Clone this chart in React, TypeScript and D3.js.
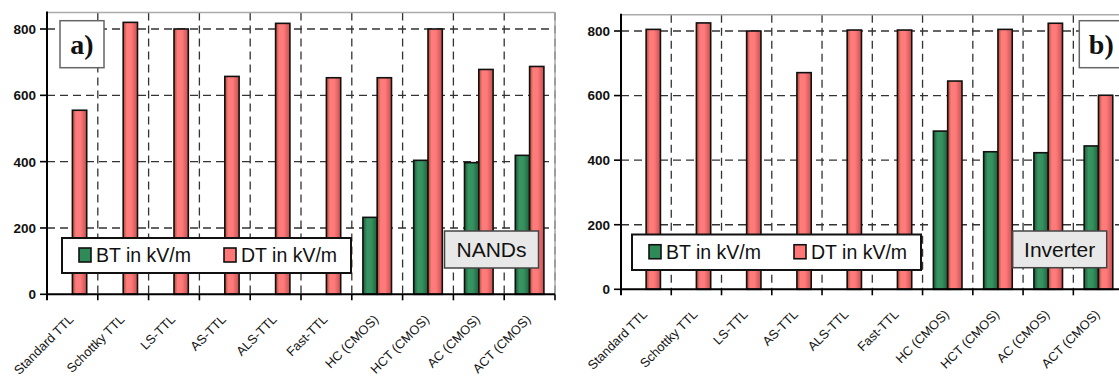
import React from "react";
import * as d3 from "d3";

const categories = [
  "Standard TTL",
  "Schottky TTL",
  "LS-TTL",
  "AS-TTL",
  "ALS-TTL",
  "Fast-TTL",
  "HC (CMOS)",
  "HCT (CMOS)",
  "AC (CMOS)",
  "ACT (CMOS)",
];
const nandBT: (number | null)[] = [null, null, null, null, null, null, 232, 404, 397, 419];
const nandDT = [555, 820, 800, 657, 817, 653, 653, 800, 678, 687];
const invBT: (number | null)[] = [null, null, null, null, null, null, 490, 426, 423, 444];
const invDT = [805, 825, 800, 671, 803, 803, 645, 805, 824, 601];
const yTicks = [0, 200, 400, 600, 800];
const seriesNames = ["BT in kV/m", "DT in kV/m"];
const panelTags = ["a)", "b)"];
const panelNames = ["NANDs", "Inverter"];

const FONT = "Arial, 'Liberation Sans', sans-serif";

type PanelGeom = {
  x0: number; x1: number; yZero: number; y800: number;
  legend: { x: number; y: number; w: number; h: number };
  nameBox: { x: number; y: number; w: number; h: number };
  tagBox: { x: number; y: number; w: number; h: number };
};

const geoms: PanelGeom[] = [
  {
    x0: 47, x1: 555, yZero: 294.3, y800: 29,
    legend: { x: 62, y: 238, w: 289, h: 35 },
    nameBox: { x: 444.5, y: 231, w: 94, h: 37 },
    tagBox: { x: 60, y: 20.7, w: 44, h: 47 },
  },
  {
    x0: 621, x1: 1123.6, yZero: 289.3, y800: 31,
    legend: { x: 632, y: 234.5, w: 289, h: 35.5 },
    nameBox: { x: 1012.7, y: 231, w: 94, h: 36.7 },
    tagBox: { x: 1079.3, y: 20.7, w: 44, h: 47 },
  },
];

function Panel({ g, bt, dt, idx }: { g: PanelGeom; bt: (number | null)[]; dt: number[]; idx: number }) {
  const unit = (g.yZero - g.y800) / 800;
  const yTopPx = g.yZero - 850 * unit;
  const y = d3.scaleLinear().domain([0, 850]).range([g.yZero, yTopPx]);
  const x = d3.scaleBand<string>().domain(categories).range([g.x0, g.x1]).paddingInner(0).paddingOuter(0);
  const bw = 14.3;
  const bounds = categories.map((c) => x(c)!).concat([g.x1]);
  const gridY = yTicks.filter((t) => t > 0);
  return (
    <g>
      {gridY.map((t) => (
        <line key={"gy" + t} x1={g.x0} x2={g.x1} y1={y(t)} y2={y(t)} stroke="#333" strokeWidth={1.3} strokeDasharray="8 5" />
      ))}
      {bounds.slice(1).map((bx, i) => (
        <line key={"gx" + i} x1={bx} x2={bx} y1={yTopPx} y2={g.yZero} stroke="#333" strokeWidth={1.3} strokeDasharray="8 5" />
      ))}
      <line x1={g.x0} x2={g.x1} y1={yTopPx} y2={yTopPx} stroke="#aaa" strokeWidth={1.5} />
      <line x1={g.x1} x2={g.x1} y1={yTopPx} y2={g.yZero} stroke="#aaa" strokeWidth={1.5} />
      {categories.map((c, i) => {
        const cx = x(c)! + x.bandwidth() / 2;
        const b = bt[i];
        const d = dt[i];
        return (
          <g key={"b" + i}>
            {b != null && (
              <rect x={cx - bw} y={y(b)} width={bw} height={g.yZero - y(b)} fill="url(#gGreen)" stroke="#111" strokeWidth={1.6} />
            )}
            <rect x={cx} y={y(d)} width={bw} height={g.yZero - y(d)} fill="url(#gRed)" stroke="#111" strokeWidth={1.6} />
          </g>
        );
      })}
      <line x1={g.x0} x2={g.x0} y1={yTopPx - 1} y2={g.yZero + 6} stroke="#000" strokeWidth={2} />
      <line x1={g.x0 - 1} x2={g.x1} y1={g.yZero} y2={g.yZero} stroke="#000" strokeWidth={2} />
      {yTicks.map((t) => (
        <g key={"yt" + t}>
          <line x1={g.x0 - 7} x2={g.x0} y1={y(t)} y2={y(t)} stroke="#000" strokeWidth={1.6} />
          <text x={g.x0 - 11} y={y(t)} dy="0.36em" textAnchor="end" fontFamily={FONT} fontSize={13.5} fontWeight="bold" fill="#111">
            {t}
          </text>
        </g>
      ))}
      {bounds.slice(1).map((bx, i) => (
        <line key={"xt" + i} x1={bx} x2={bx} y1={g.yZero} y2={g.yZero + 6} stroke="#000" strokeWidth={1.6} />
      ))}
      {categories.map((c, i) => {
        const cx = x(c)! + x.bandwidth() / 2 + 2;
        const ty = g.yZero + 26;
        return (
          <text key={"xl" + i} transform={`translate(${cx},${ty}) rotate(-45)`} textAnchor="end" fontFamily={FONT} fontSize={12.8} fill="#111">
            {c}
          </text>
        );
      })}
      <rect x={g.legend.x} y={g.legend.y} width={g.legend.w} height={g.legend.h} fill="#fff" stroke="#111" strokeWidth={2} />
      {seriesNames.map((s, i) => {
        const sx = g.legend.x + 17 + i * 145;
        const base = g.legend.y + g.legend.h / 2 + 6.5;
        return (
          <g key={"lg" + i}>
            <rect x={sx} y={base - 14} width={12} height={14} fill={i === 0 ? "#2e8b57" : "#ff7676"} stroke="#111" strokeWidth={1.6} />
            <text x={sx + 17} y={base} fontFamily={FONT} fontSize={19.5} fill="#111">
              {s}
            </text>
          </g>
        );
      })}
      <rect x={g.nameBox.x} y={g.nameBox.y} width={g.nameBox.w} height={g.nameBox.h} fill="#e8e8e8" stroke="#444" strokeWidth={1.5} />
      <text x={g.nameBox.x + g.nameBox.w / 2} y={g.nameBox.y + 25.5} textAnchor="middle" fontFamily={FONT} fontSize={21} fill="#111">
        {panelNames[idx]}
      </text>
      <rect x={g.tagBox.x} y={g.tagBox.y} width={g.tagBox.w} height={g.tagBox.h} fill="#fff" stroke="#666" strokeWidth={1.5} />
      <text x={g.tagBox.x + g.tagBox.w / 2} y={g.tagBox.y + 33} textAnchor="middle" fontFamily="'Liberation Serif', 'Times New Roman', serif" fontWeight="bold" fontSize={28} fill="#111">
        {panelTags[idx]}
      </text>
    </g>
  );
}

export default function App() {
  return (
    <svg width={1119} height={377} style={{ position: "absolute", left: 0, top: 0, background: "#fff" }}>
      <defs>
        <linearGradient id="gRed" x1="0" x2="1" y1="0" y2="0">
          <stop offset="0%" stopColor="#a84a30" />
          <stop offset="25%" stopColor="#ff7c7c" />
          <stop offset="55%" stopColor="#ff7a7a" />
          <stop offset="100%" stopColor="#c85050" />
        </linearGradient>
        <linearGradient id="gGreen" x1="0" x2="1" y1="0" y2="0">
          <stop offset="0%" stopColor="#1f5a38" />
          <stop offset="30%" stopColor="#389663" />
          <stop offset="60%" stopColor="#35905e" />
          <stop offset="100%" stopColor="#1f6040" />
        </linearGradient>
      </defs>
      <rect x={0} y={0} width={1119} height={377} fill="#fff" />
      <Panel g={geoms[0]} bt={nandBT} dt={nandDT} idx={0} />
      <Panel g={geoms[1]} bt={invBT} dt={invDT} idx={1} />
    </svg>
  );
}
